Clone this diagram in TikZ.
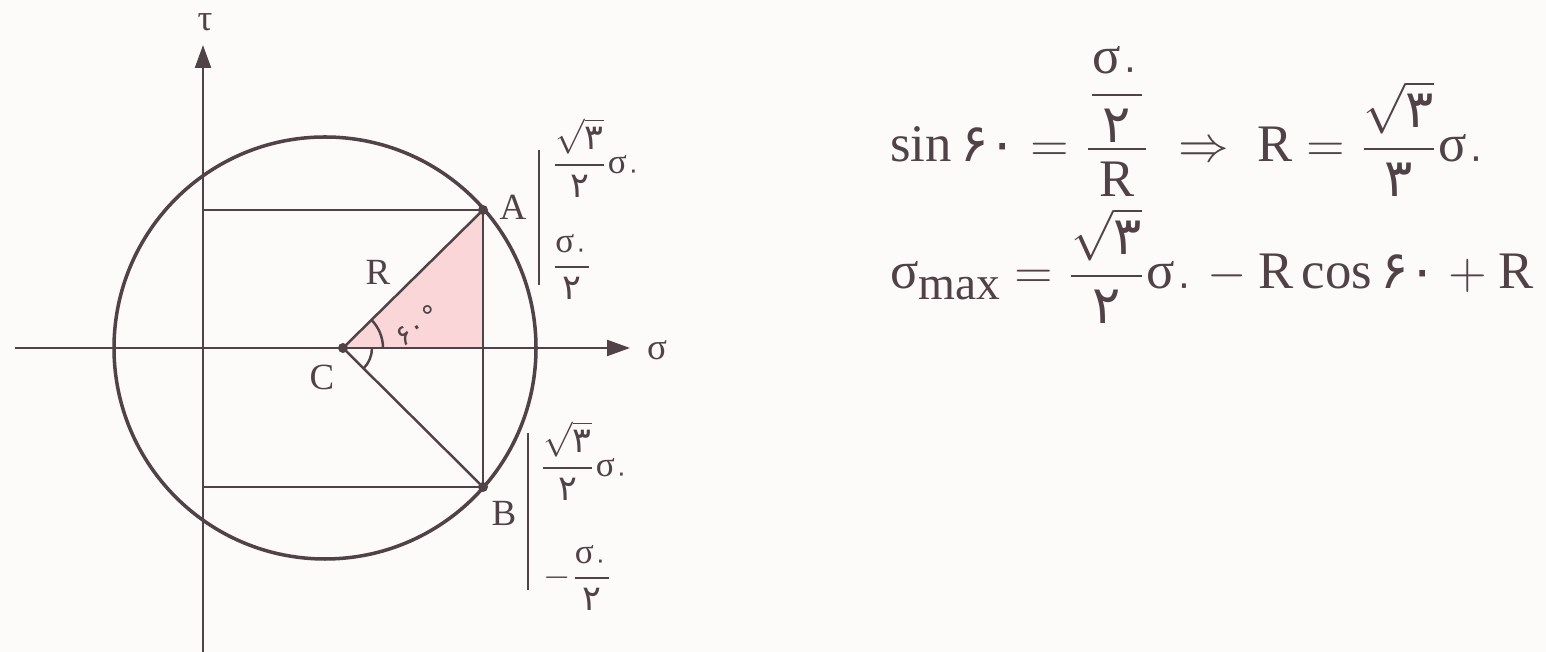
\documentclass[tikz,border=0pt]{standalone}
\usepackage{amsmath}
\usepackage{fontspec}
\setmainfont{Liberation Serif}
\newfontfamily\fa{DejaVu Sans}
\usetikzlibrary{arrows.meta}
\definecolor{inkgray}{RGB}{80,66,70}
\definecolor{paper}{RGB}{253,250,250}
\definecolor{wedge}{RGB}{250,214,216}
\newcommand{\fd}[1]{\text{\fa #1}}
\newcommand{\sz}{\text{σ}_{\fd{۰}}}
\begin{document}
\begin{tikzpicture}[x=0.01cm,y=0.01cm,line width=0.7pt,color=inkgray,
    lbl/.style={font=\fontsize{10.5}{12}\selectfont},
    small/.style={font=\fontsize{10}{12}\selectfont,anchor=west,inner sep=0pt},
    big/.style={font=\fontsize{15}{18}\selectfont,anchor=base west,inner sep=0pt}]
  \fill[paper] (0,0) rectangle (1546,652);
  \useasboundingbox (0,0) rectangle (1546,652);
  % points of the circle
  \coordinate (O) at (325,304);
  \coordinate (C) at (343,304);
  \coordinate (A) at (483,442);
  \coordinate (B) at (483,165);
  \coordinate (Ax) at (483,304);
  \coordinate (At) at (203,442);
  \coordinate (Bt) at (203,165);
  \coordinate (tauL) at (203,0);
  \coordinate (tauH) at (203,607);
  \coordinate (sigL) at (15,304);
  \coordinate (sigH) at (630,304);
  \fill[wedge] (C) -- (A) -- (Ax) -- cycle;
  \draw[-{Triangle[length=6.5pt,width=4.5pt]}] (tauL) -- (tauH);
  \draw[-{Triangle[length=6.5pt,width=4.5pt]}] (sigL) -- (sigH);
  \draw[line width=1pt] (O) circle (211);
  \draw (At) -- (A) -- (B) -- (Bt);
  \draw (A) -- (C) -- (B);
  \draw (C) ++(40,0) arc[start angle=0,end angle=45,radius=40];
  \draw (C) ++(29,0) arc[start angle=0,end angle=-45,radius=29];
  \fill (A) circle (5);
  \fill (B) circle (5);
  \fill (C) circle (5);
  \node[lbl] (tau) at (205,630) {τ};
  \node[lbl] (sig) at (657,302) {σ};
  \node[lbl] (lA) at (513,445) {A};
  \node[lbl] (lB) at (504,139) {B};
  \node[lbl] (lC) at (322,275) {C};
  \node[lbl] (lR) at (378,380) {R};
  \node[font=\fontsize{8}{10}\selectfont,rotate=35,inner sep=0pt] (ang) at (417,327) {\fa ۶۰\kern1pt°};
  % coordinates of A and B
  \draw (539,502) -- (539,367);
  \draw (528,219) -- (528,62);
  \node[small] (Asig) at (550,494) {$\dfrac{\sqrt{\fd{۳}}}{\fd{۲}}\sz$};
  \node[small] (Atau) at (550,385) {$\dfrac{\sz}{\fd{۲}}$};
  \node[small] (Bsig) at (538,191) {$\dfrac{\sqrt{\fd{۳}}}{\fd{۲}}\sz$};
  \node[small] (Btau) at (542,74) {$-\dfrac{\sz}{\fd{۲}}$};
  % radius and maximum stress
  \node[big] (eqR) at (889,490) {$\text{sin}\,\fd{۶۰}=\dfrac{\dfrac{\sz}{\fd{۲}}}{\text{R}}\;\Rightarrow\;\text{R}=\dfrac{\sqrt{\fd{۳}}}{\fd{۳}}\sz$};
  \node[big] (eqS) at (889,363) {$\text{σ}\raisebox{-0.45ex}{\fontsize{13.5}{15}\selectfont max}=\dfrac{\sqrt{\fd{۳}}}{\fd{۲}}\sz-\text{R}\,\text{cos}\,\fd{۶۰}+\text{R}$};
\end{tikzpicture}
\end{document}
